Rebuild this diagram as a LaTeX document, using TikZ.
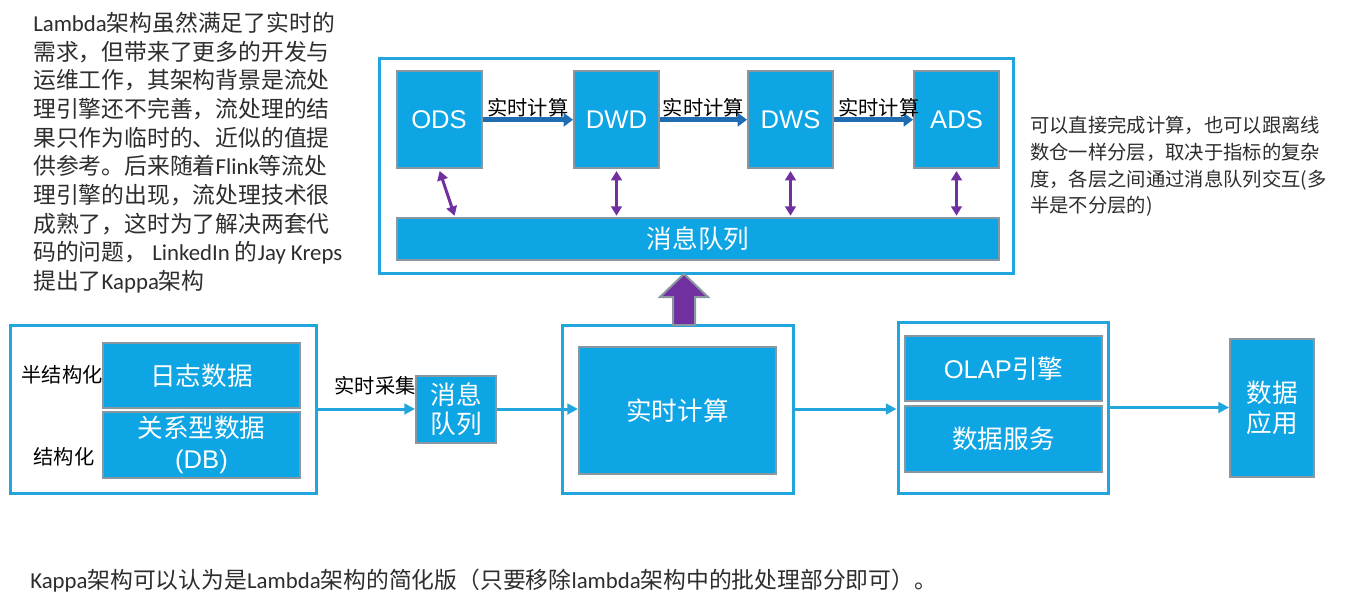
\documentclass[tikz,border=0pt]{standalone}
\usepackage{fontspec}
\setmainfont{Noto Sans CJK SC}
\newfontfamily\lat{Carlito}
\newfontfamily\ari{Liberation Sans}
\usepackage{xcolor}
\usetikzlibrary{arrows.meta,calc}
\definecolor{kappaBlue}{RGB}{14,165,228}
\definecolor{kappaFrame}{RGB}{32,166,220}
\definecolor{kappaGray}{RGB}{138,150,160}
\definecolor{kappaNavy}{RGB}{30,108,178}
\definecolor{kappaPurple}{RGB}{112,48,160}
\definecolor{kappaText}{RGB}{45,45,45}

\begin{document}
\begin{tikzpicture}[x=0.75pt,y=-0.75pt,
    blk/.style={fill=kappaBlue,draw=kappaGray,line width=1.5pt,text=white,inner sep=0pt,align=center,font=\fontsize{19.2}{23}\selectfont},
    outer/.style={draw=kappaFrame,line width=2.25pt,inner sep=0pt},
    flow/.style={draw=kappaFrame,line width=2.25pt,-{Triangle[length=8pt,width=8pt]}},
    calcflow/.style={draw=kappaNavy,line width=3.5pt,-{Triangle[length=7pt,width=10pt]}},
    duplex/.style={draw=kappaPurple,line width=2.25pt,{Triangle[length=7pt,width=8pt]}-{Triangle[length=7pt,width=8pt]},shorten <=1.5pt,shorten >=1pt},
    bigup/.style={fill=kappaPurple,draw=kappaGray,line width=1.5pt},
    lbl/.style={text=black,inner sep=0pt,font=\fontsize{15.2}{18}\selectfont},
    note/.style={text=kappaText,inner sep=0pt,align=left}]
            \fill[white] (0,0) rectangle (1348,593);
            \useasboundingbox (0,0) rectangle (1348,593);

            % Notes
            \node[note,anchor=north west,font=\fontsize{17.1}{21.5}\selectfont] (why) at (33,12) {{\lat Lambda}架构虽然满足了实时的\\需求，但带来了更多的开发与\\运维工作，其架构背景是流处\\理引擎还不完善，流处理的结\\果只作为临时的、近似的值提\\供参考。后来随着{\lat Flink}等流处\\理引擎的出现，流处理技术很\\成熟了，这时为了解决两套代\\码的问题， {\lat LinkedIn} 的{\lat Jay Kreps}\\提出了{\lat Kappa}架构};
            \node[note,anchor=north west,font=\fontsize{14.5}{20}\selectfont] (layers) at (1030,116) {可以直接完成计算，也可以跟离线\\数仓一样分层，取决于指标的复杂\\度，各层之间通过消息队列交互(多\\半是不分层的)};
            \node[note,anchor=west,font=\fontsize{17.1}{21}\selectfont] (sum) at (30,581) {{\lat Kappa}架构可以认为是{\lat Lambda}架构的简化版（只要移除{\lat lambda}架构中的批处理部分即可）。};

            % Layers
            \node[outer,minimum width=475.5pt,minimum height=161.25pt] (top) at (696,165.5) {};
            \node[blk,minimum width=63.75pt,minimum height=72.4pt] (ods) at (439,119.75) {\ari ODS};
            \node[blk,minimum width=63.75pt,minimum height=72.4pt] (dwd) at (616.5,119.75) {\ari DWD};
            \node[blk,minimum width=63.75pt,minimum height=72.4pt] (dws) at (790.5,119.75) {\ari DWS};
            \node[blk,minimum width=63.75pt,minimum height=72.4pt] (ads) at (956.5,119.75) {\ari ADS};
            \node[blk,minimum width=451.5pt,minimum height=31.5pt] (bar) at (698,239) {消息队列};

            \draw[calcflow] (ods) -- node[lbl,anchor=south] {实时计算} (dwd);
            \draw[calcflow] (dwd) -- node[lbl,anchor=south] {实时计算} (dws);
            \draw[calcflow] (dws) -- node[lbl,anchor=south,xshift=4pt] {实时计算} (ads);

            \draw[duplex] (ods.south) -- ($(ods.south |- bar.north)+(16,0)$);
            \draw[duplex] (dwd.south) -- (dwd.south |- bar.north);
            \draw[duplex] (dws.south) -- (dws.south |- bar.north);
            \draw[duplex] (ads.south) -- (ads.south |- bar.north);

            % Sources
            \node[outer,minimum width=229.5pt,minimum height=126pt] (src) at (163,409) {};
            \node[blk,minimum width=147.75pt,minimum height=48.75pt] (log) at (201.5,375.5) {日志数据};
            \node[blk,minimum width=147.75pt,minimum height=49.5pt] (db) at (201.5,445) {关系型数据\\{\ari (DB)}};
            \node[lbl] (semi) at (62,375) {半结构化};
            \node[lbl] (struct) at (64,457) {结构化};

            \node[blk,minimum width=60pt,minimum height=50.25pt,font=\fontsize{19.2}{22}\selectfont] (mq) at (456,409) {消息\\队列};
            \node[lbl] (collect) at (375,386) {实时采集};

            % Compute
            \node[outer,minimum width=173.25pt,minimum height=126pt] (mid) at (677.5,409) {};
            \node[blk,minimum width=147.75pt,minimum height=95.25pt] (rt) at (677.5,410.5) {实时计算};

            % Serving
            \node[outer,minimum width=157.5pt,minimum height=128.25pt] (serve) at (1003,407.5) {};
            \node[blk,minimum width=147.75pt,minimum height=48.75pt] (olap) at (1003.5,368.5) {{\ari OLAP}引擎};
            \node[blk,minimum width=147.75pt,minimum height=49.5pt] (svc) at (1003.5,439) {数据服务};
            \node[blk,minimum width=63pt,minimum height=103.5pt,font=\fontsize{19.2}{22.5}\selectfont] (app) at (1272,408) {数据\\应用};

            % Arrows
            \draw[flow] (src.east) -- (src.east -| mq.west);
            \draw[flow] (mq.east) -- (mq.east -| rt.west);
            \draw[flow] (mid.east) -- (mid.east -| serve.west);
            \draw[flow] (serve.east) -- (serve.east -| app.west);

            \coordinate (uptip) at (684,274);
            \draw[bigup] (uptip) -- ++(24,23) -- ++(-13,0) -- ++(0,28) -- ++(-22,0) -- ++(0,-28) -- ++(-13,0) -- cycle;
        \end{tikzpicture}
\end{document}
